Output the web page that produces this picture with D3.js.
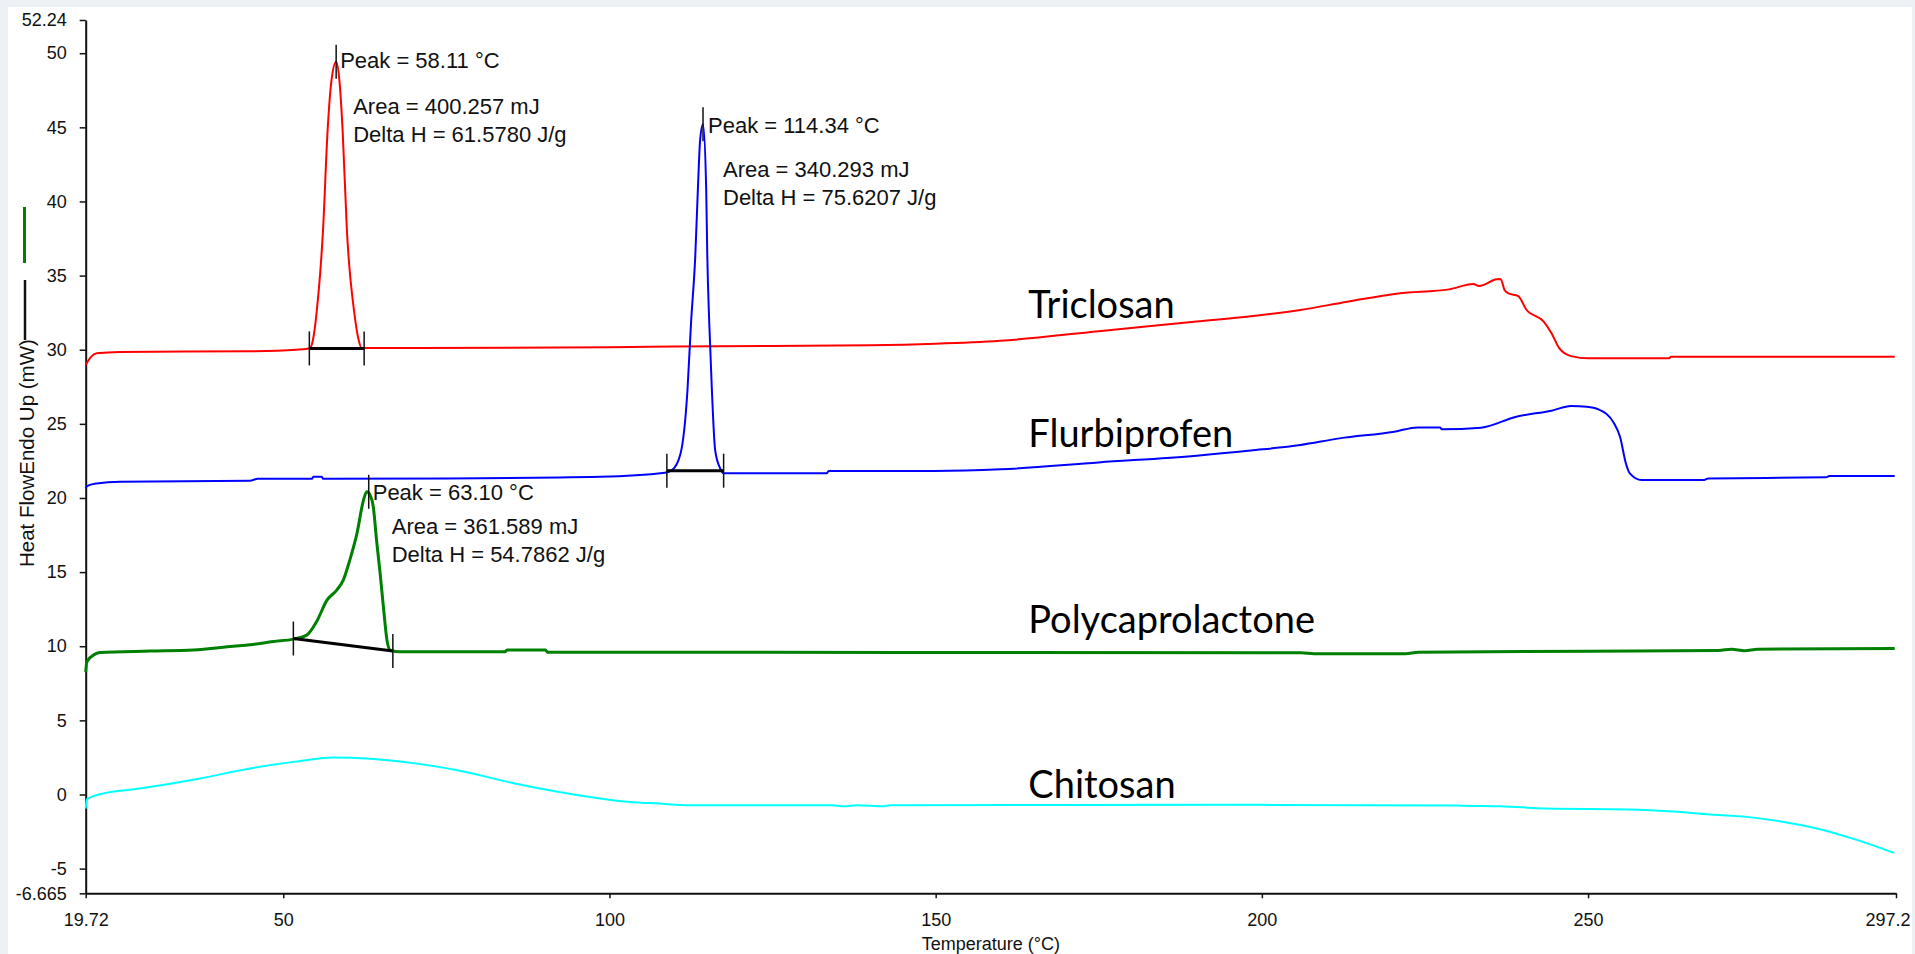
<!DOCTYPE html>
<html>
<head>
<meta charset="utf-8">
<script src="https://cdn.jsdelivr.net/npm/d3@7"></script>
<style>
  html, body { margin: 0; padding: 0; background: #edf1f6; }
  #chart { position: absolute; left: 8px; top: 7px; width: 1904px; height: 947px; background: #fff; overflow: hidden; }
  svg { display: block; font-family: "Liberation Sans", Arial, sans-serif; }
</style>
</head>
<body>
<div id="chart"></div>
<script>
// DSC curves, [temperature °C, heat flow mW]
const triclosan = [
  [19.72, 28.97], [20.5, 29.5], [21.4, 29.76], [25, 29.85], [45, 29.9], [52, 30.0], [53.5, 30.05],
  [54.1, 30.1], [54.6, 30.77], [55.1, 32.46], [56.1, 38.1], [56.8, 44.8], [57.4, 48.2], [58.11, 49.43],
  [58.6, 48.2], [59.1, 44.8], [59.75, 38.1], [60.9, 32.46], [61.5, 30.77], [62.0, 30.12], [70, 30.12],
  [100, 30.16], [110, 30.22], [140, 30.3], [150, 30.4], [159.9, 30.6], [175, 31.25], [190, 31.9],
  [198.3, 32.25], [205.9, 32.68], [213.1, 33.24], [220.9, 33.8], [228.7, 34.07], [232.4, 34.43],
  [233.3, 34.3], [236.0, 34.75], [236.6, 34.77], [237.2, 34.03], [237.8, 33.8], [239.3, 33.62],
  [240.5, 32.73], [243.2, 31.89], [244.4, 31.11], [245.6, 30.09], [247.4, 29.57], [250.1, 29.42],
  [262.4, 29.42], [262.7, 29.53], [297.0, 29.53]
];
const flurbiprofen = [
  [19.72, 20.65], [19.9, 20.8], [21.4, 20.98], [25, 21.1], [44.9, 21.16], [46.1, 21.3], [54.4, 21.3],
  [54.6, 21.43], [55.9, 21.43], [56.1, 21.3], [75, 21.32], [98.6, 21.43], [108.5, 21.7], [109.6, 21.88],
  [110.9, 23.0], [111.96, 27.28], [112.5, 31.78], [113.15, 36.28], [113.55, 40.78], [113.9, 44.15],
  [114.34, 45.2], [114.83, 40.78], [115.0, 36.28], [115.3, 31.78], [115.7, 27.28], [116.2, 23.23],
  [116.97, 22.0], [117.5, 21.66], [133.3, 21.66], [133.6, 21.82], [149.7, 21.82], [160, 21.93],
  [175, 22.4], [190, 22.85], [198.3, 23.2], [205.9, 23.57], [211.9, 24.02], [220.3, 24.47],
  [223.9, 24.76], [227.3, 24.76], [227.6, 24.63], [233.6, 24.74], [239.0, 25.48], [244.4, 25.89],
  [247.4, 26.2], [249.8, 26.15], [251.6, 25.98], [254.0, 25.03], [254.9, 24.13], [255.8, 22.33],
  [256.4, 21.66], [258.2, 21.21], [267.8, 21.21], [268.4, 21.32], [286.5, 21.39], [287, 21.48], [297.0, 21.48]
];
const polycaprolactone = [
  [19.72, 8.27], [19.9, 8.95], [21.15, 9.47], [21.9, 9.58], [29.6, 9.67], [36.2, 9.74], [42.35, 10.0],
  [44.9, 10.1], [48.5, 10.32], [51.55, 10.48], [53.6, 10.75], [55.1, 11.65], [56.7, 13.11], [58.2, 13.79],
  [59.2, 14.46], [60.2, 15.81], [61.3, 17.61], [62.3, 19.86], [62.8, 20.42], [63.3, 20.2], [63.8, 19.41],
  [64.3, 17.16], [64.85, 14.91], [65.35, 12.66], [65.9, 10.41], [66.4, 9.74], [67.9, 9.62], [84, 9.62],
  [84.3, 9.74], [90.2, 9.74], [90.5, 9.6], [150, 9.58], [206, 9.56], [208, 9.5], [222, 9.5], [224, 9.6],
  [250, 9.66], [270, 9.72], [272, 9.8], [274, 9.7], [276, 9.8], [297.0, 9.84]
];
const chitosan = [
  [19.72, -0.95], [19.9, -0.32], [21.9, 0.02], [28.0, 0.4], [37.25, 1.08], [44.9, 1.75], [51.55, 2.2],
  [57.7, 2.5], [62.8, 2.43], [67.9, 2.22], [76.7, 1.64], [85.5, 0.74], [94.3, 0.02], [103.1, -0.5],
  [107.5, -0.61], [112.4, -0.72], [134, -0.72], [136, -0.8], [138, -0.72], [142, -0.8], [143, -0.72],
  [200, -0.7], [230, -0.75], [236.6, -0.79], [243.7, -0.95], [256.0, -1.01], [263.7, -1.17],
  [268.3, -1.33], [274.4, -1.51], [280.0, -1.85], [285.1, -2.29], [291.3, -3.08], [296.9, -3.94]
];

const seriesNames = ["Triclosan", "Flurbiprofen", "Polycaprolactone", "Chitosan"];
const seriesColors = ["#ff0000", "#0000ff", "#008000", "#00ffff"];

// peak integrations
const peakTemps = [58.11, 114.34, 63.10];
const peakHeights = [49.43, 45.2, 20.42];
const peakTexts = ["Peak = 58.11 °C", "Peak = 114.34 °C", "Peak = 63.10 °C"];
const areaTexts = ["Area = 400.257 mJ", "Area = 340.293 mJ", "Area = 361.589 mJ"];
const deltaHTexts = ["Delta H = 61.5780 J/g", "Delta H = 75.6207 J/g", "Delta H = 54.7862 J/g"];
const baselineLimits = [
  [[54.0, 30.09], [62.4, 30.09]],
  [[108.8, 21.84], [117.5, 21.84]],
  [[51.55, 10.52], [66.8, 9.68]]
];

const xTicks = [19.72, 50, 100, 150, 200, 250, 297.2];
const xTickLabels = ["19.72", "50", "100", "150", "200", "250", "297.2"];
const yTicks = [52.24, 50, 45, 40, 35, 30, 25, 20, 15, 10, 5, 0, -5, -6.665];
const yTickLabels = ["52.24", "50", "45", "40", "35", "30", "25", "20", "15", "10", "5", "0", "-5", "-6.665"];

// layout: where the sample names sit (data coords) and text offsets (px) for each peak
const nameAnchors = [[164.2, 32.13], [164.2, 23.45], [164.2, 10.92], [164.2, -0.24]];
const peakTextOffsets = [
  { peak: [4, 6], area: [17, 52], delta: [17, 80] },
  { peak: [5, 9], area: [20, 53], delta: [20, 81] },
  { peak: [4, 8], area: [23, 42], delta: [23, 70] }
];

const W = 1904, H = 947;
const margin = { left: 77.7, right: W - 1888, top: 13, bottom: H - 886.3 };

const svg = d3.select('#chart').append('svg')
  .attr('width', W)
  .attr('height', H);

const x = d3.scaleLinear().domain([19.72, 297.2]).range([margin.left, W - margin.right]);
const y = d3.scaleLinear().domain([-6.665, 52.24]).range([H - margin.bottom, margin.top]);

// Axes
const yAxis = svg.append('g')
  .attr('transform', `translate(${margin.left},0)`)
  .call(d3.axisLeft(y).tickValues(yTicks).tickFormat((d, i) => yTickLabels[i])
    .tickSize(6).tickSizeOuter(0).tickPadding(13));

const xAxis = svg.append('g')
  .attr('transform', `translate(0,${H - margin.bottom})`)
  .call(d3.axisBottom(x).tickValues(xTicks).tickFormat((d, i) => xTickLabels[i])
    .tickSize(5).tickSizeOuter(0).tickPadding(15));

[xAxis, yAxis].forEach(g => {
  g.select('.domain').attr('stroke', '#111').attr('stroke-width', 2);
  g.selectAll('.tick line').attr('stroke', '#111').attr('stroke-width', 1.5);
  g.selectAll('.tick text').attr('fill', '#111').style('font-size', '18px')
    .style('font-family', '"Liberation Sans", Arial, sans-serif');
});

// last x label sits at the panel edge; keep it inside
xAxis.selectAll('.tick text').filter((d, i) => i === xTicks.length - 1)
  .attr('text-anchor', 'end').attr('x', 14);

// Axis titles
svg.append('text')
  .attr('x', (x.range()[0] + x.range()[1]) / 2)
  .attr('y', 943)
  .attr('text-anchor', 'middle')
  .attr('fill', '#111')
  .style('font-size', '18px')
  .text('Temperature (°C)');

svg.append('text')
  .attr('transform', 'translate(26,560) rotate(-90)')
  .attr('fill', '#111')
  .style('font-size', '20.5px')
  .text('Heat FlowEndo Up (mW)');

// little legend strokes next to the y title
svg.append('line').attr('x1', 17).attr('x2', 17).attr('y1', 273).attr('y2', 333)
  .attr('stroke', '#111').attr('stroke-width', 2.5);
svg.append('line').attr('x1', 16.5).attr('x2', 16.5).attr('y1', 200).attr('y2', 256)
  .attr('stroke', '#008000').attr('stroke-width', 3);

// Curves
const line = d3.line()
  .x(d => x(d[0]))
  .y(d => y(d[1]))
  .curve(d3.curveMonotoneX);

const allSeries = [triclosan, flurbiprofen, polycaprolactone, chitosan];
const widths = [2, 2, 3, 2];
allSeries.forEach((s, i) => {
  svg.append('path')
    .datum(s)
    .attr('fill', 'none')
    .attr('stroke', seriesColors[i])
    .attr('stroke-width', widths[i])
    .attr('stroke-linejoin', 'round')
    .attr('d', line);
});

// Sample names
svg.selectAll('.name')
  .data(seriesNames)
  .enter().append('text')
  .attr('class', 'name')
  .attr('x', (d, i) => x(nameAnchors[i][0]))
  .attr('y', (d, i) => y(nameAnchors[i][1]))
  .attr('fill', '#000')
  .style('font-family', 'Lato, "Open Sans", sans-serif')
  .style('font-size', '38px')
  .text(d => d);

// Integration baselines + limit markers
baselineLimits.forEach(b => {
  svg.append('line')
    .attr('x1', x(b[0][0])).attr('y1', y(b[0][1]))
    .attr('x2', x(b[1][0])).attr('y2', y(b[1][1]))
    .attr('stroke', '#000').attr('stroke-width', 3);
  b.forEach(p => {
    svg.append('line')
      .attr('x1', x(p[0])).attr('x2', x(p[0]))
      .attr('y1', y(p[1]) - 17).attr('y2', y(p[1]) + 17)
      .attr('stroke', '#111').attr('stroke-width', 1.5);
  });
});

// Peak markers and text
peakTemps.forEach((t, i) => {
  const px = x(t), py = y(peakHeights[i]);
  const o = peakTextOffsets[i];
  svg.append('line')
    .attr('x1', px).attr('x2', px)
    .attr('y1', py - 17).attr('y2', py + 17)
    .attr('stroke', '#111').attr('stroke-width', 1.5);
  const lbl = [[peakTexts[i], o.peak], [areaTexts[i], o.area], [deltaHTexts[i], o.delta]];
  lbl.forEach(([txt, off]) => {
    svg.append('text')
      .attr('x', px + off[0])
      .attr('y', py + off[1])
      .attr('fill', '#111')
      .style('font-size', '22px')
      .text(txt);
  });
});
</script>
</body>
</html>
